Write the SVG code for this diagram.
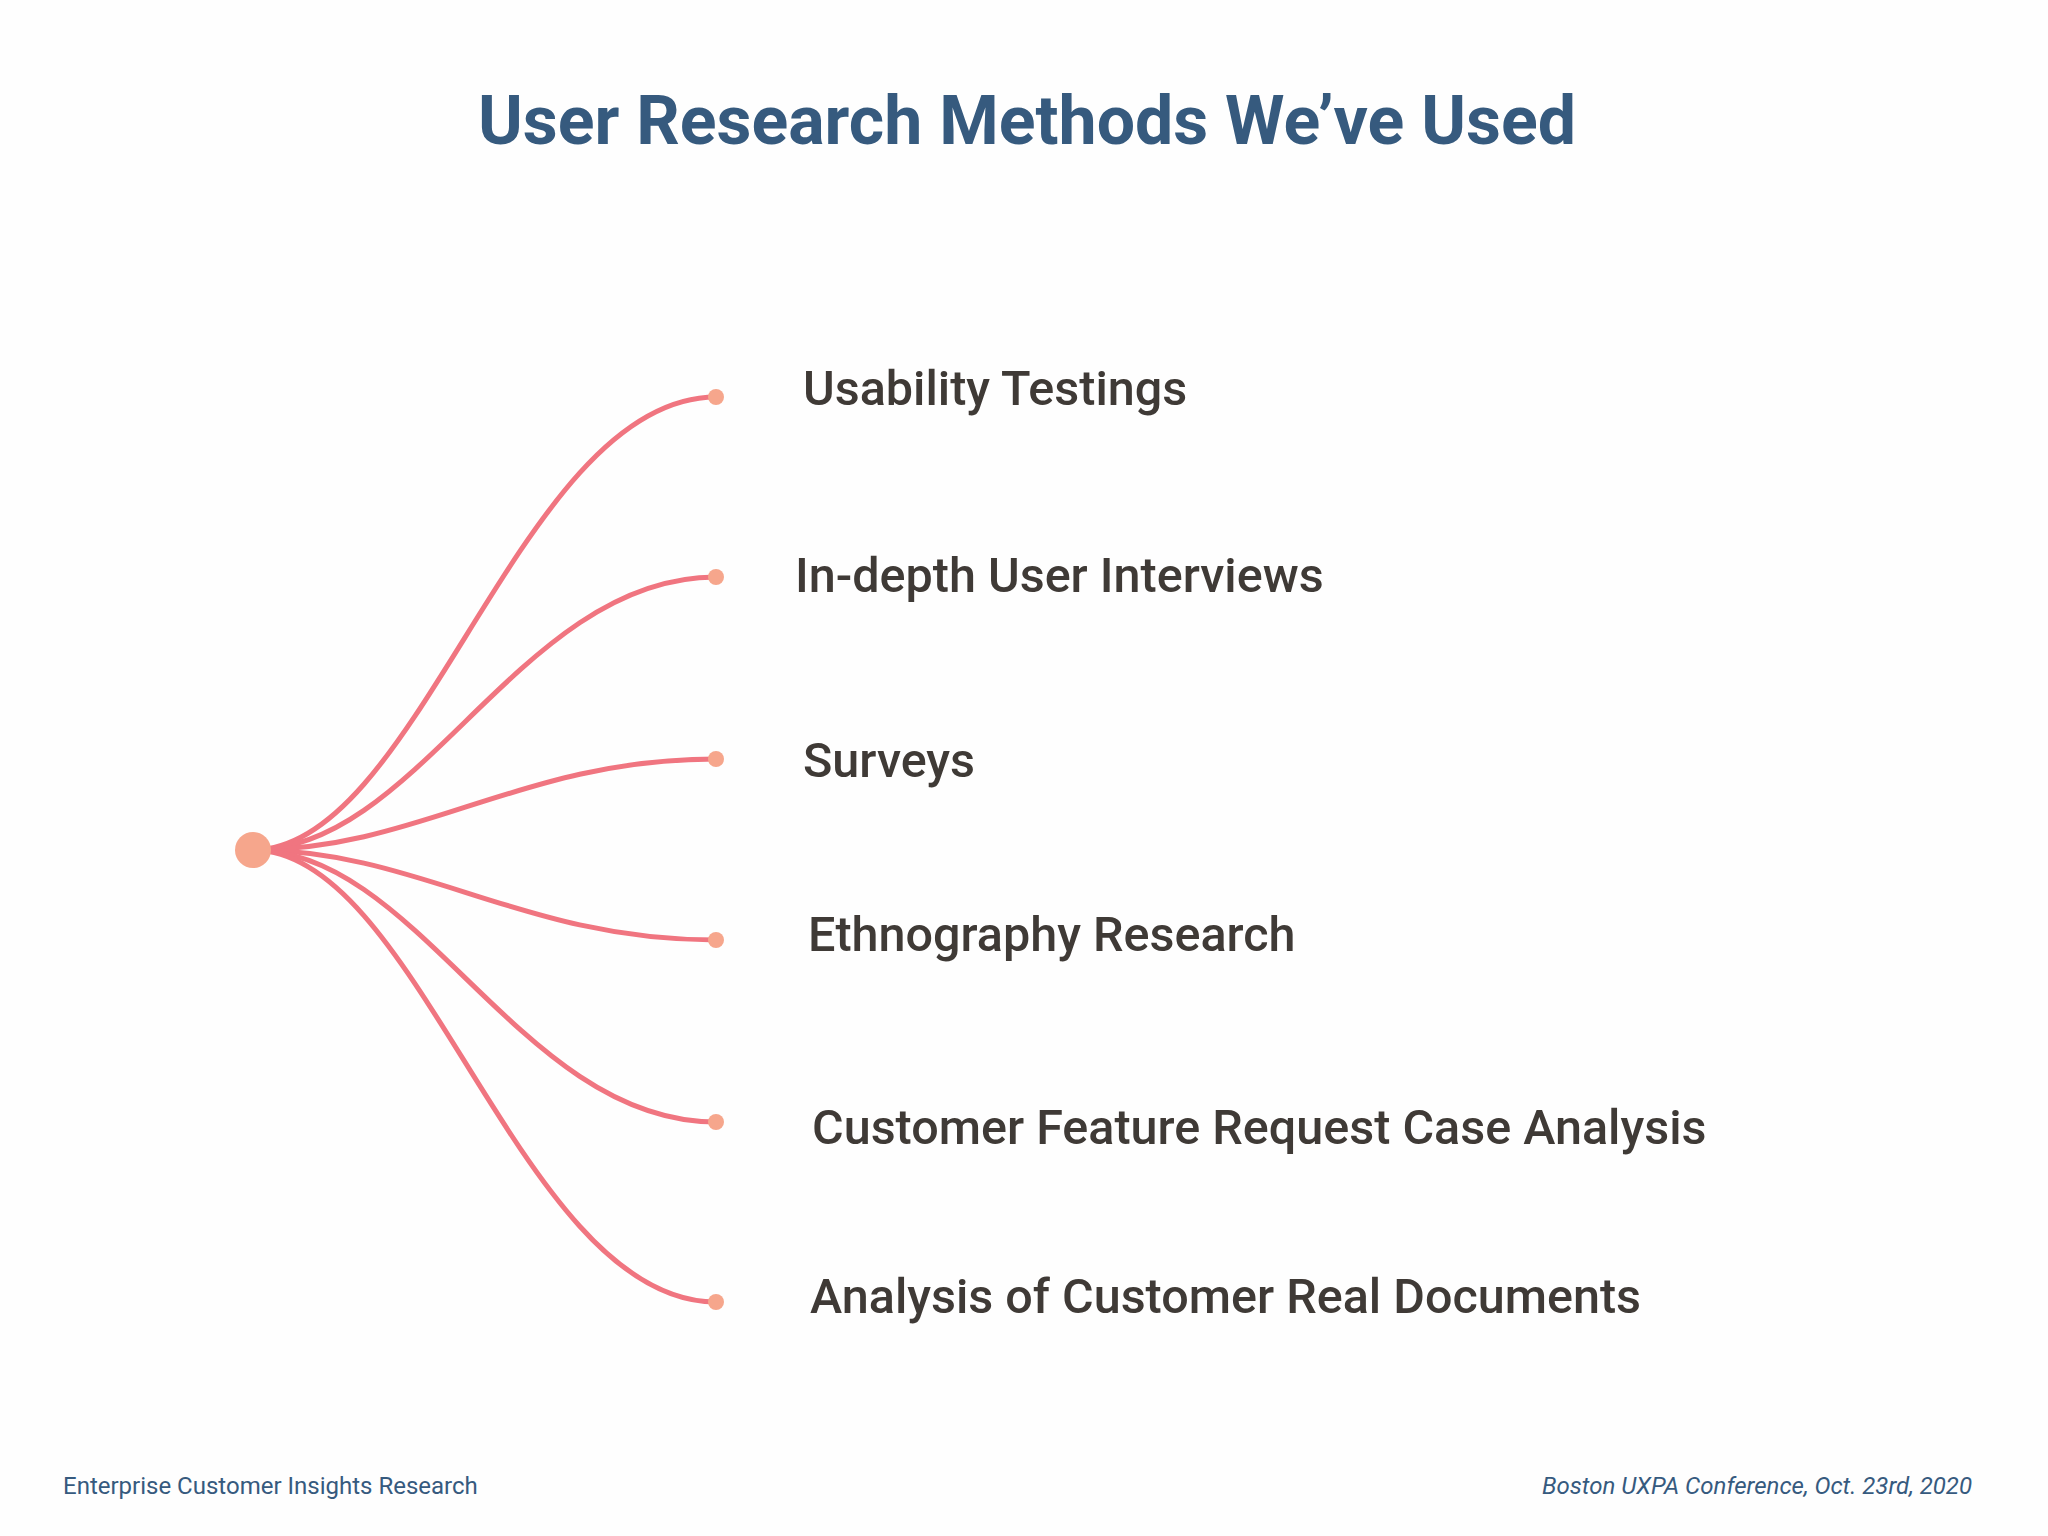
<svg xmlns="http://www.w3.org/2000/svg" width="2048" height="1536" viewBox="0 0 2048 1536">
<style>
.lbl{font-family:Roboto,"Liberation Sans",sans-serif;font-weight:500;font-size:48.5px;fill:#3f3a36}
.c{fill:none;stroke:#f07580;stroke-width:5}
.d{fill:#f6a68c}
.ft{font-family:Roboto,"Liberation Sans",sans-serif;font-size:24px;fill:#365a7e}
</style>
<rect width="2048" height="1536" fill="#fefefe"/>
<text x="1027" y="144" text-anchor="middle" font-family="Roboto,'Liberation Sans',sans-serif" font-weight="700" font-size="68" fill="#365a7e">User Research Methods We’ve Used</text>
<g id="connectors">
<path class="c" d="M253,850 C420,850 520,397 716,397"/>
<path class="c" d="M253,850 C420,850 520,577 716,577"/>
<path class="c" d="M253,850 C420,850 520,759 716,759"/>
<path class="c" d="M253,850 C420,850 520,940 716,940"/>
<path class="c" d="M253,850 C420,850 520,1122 716,1122"/>
<path class="c" d="M253,850 C420,850 520,1302 716,1302"/>
</g>
<g id="root"><circle class="d" cx="253" cy="850" r="18"/></g>
<g id="n1"><circle class="d" cx="716" cy="397" r="8"/><text class="lbl" x="803" y="405">Usability Testings</text></g>
<g id="n2"><circle class="d" cx="716" cy="577" r="8"/><text class="lbl" x="795" y="592">In-depth User Interviews</text></g>
<g id="n3"><circle class="d" cx="716" cy="759" r="8"/><text class="lbl" x="803" y="777">Surveys</text></g>
<g id="n4"><circle class="d" cx="716" cy="940" r="8"/><text class="lbl" x="808" y="951">Ethnography Research</text></g>
<g id="n5"><circle class="d" cx="716" cy="1122" r="8"/><text class="lbl" x="812" y="1144">Customer Feature Request Case Analysis</text></g>
<g id="n6"><circle class="d" cx="716" cy="1302" r="8"/><text class="lbl" x="810" y="1313">Analysis of Customer Real Documents</text></g>
<text class="ft" x="63" y="1494">Enterprise Customer Insights Research</text>
<text class="ft" x="1972" y="1494" text-anchor="end" font-style="italic">Boston UXPA Conference, Oct. 23rd, 2020</text>
</svg>
